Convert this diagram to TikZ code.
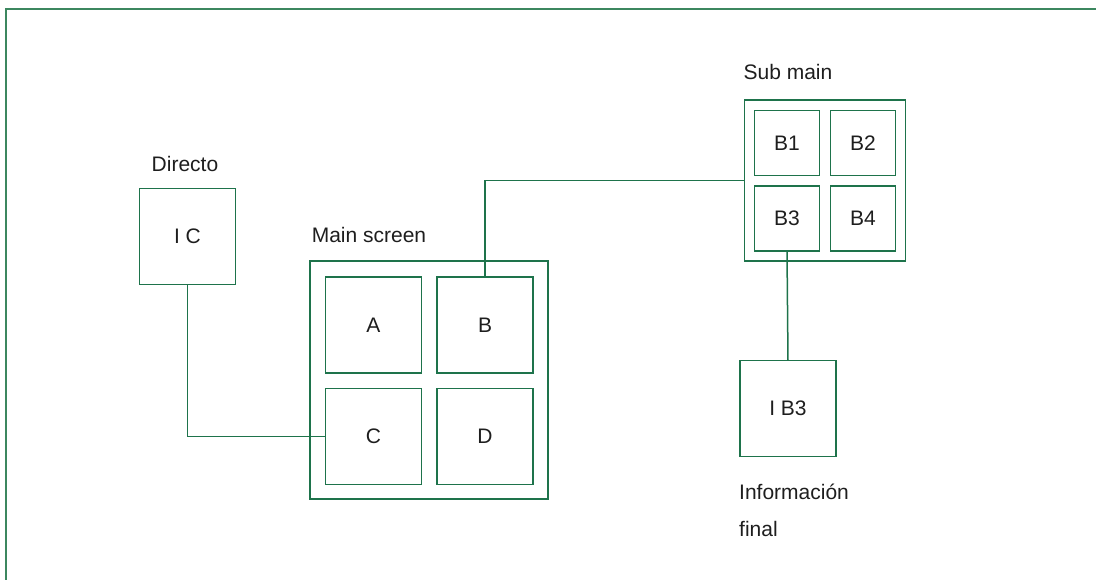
\documentclass[tikz,border=0pt]{standalone}
\usepackage{fontspec}
\setmainfont{Liberation Sans}
\definecolor{lc}{RGB}{30,115,75}
\definecolor{fc}{RGB}{60,135,95}
\definecolor{tc}{RGB}{30,30,30}
\begin{document}
\begin{tikzpicture}[x=1pt,y=-1pt,
  box/.style={draw=lc,line width=1.5pt,minimum width=#1,minimum height=#1,inner sep=0pt,outer sep=0pt,text=tc,font=\fontsize{21}{24}\selectfont},
  lbl/.style={text=tc,font=\fontsize{21}{24}\selectfont,inner sep=0pt},
  conn/.style={draw=lc,line width=1.5pt}]
\useasboundingbox (0,0) rectangle (1096,580);
\draw[fc,line width=2pt] (6,600) coordinate (fl) -- (6,9) coordinate (fc1) -- (1110,9) coordinate (fr);
% Directo
\node[box=96pt] (ic) at (187.5,236.5) {I C};
\node[lbl] (ldir) at (185,164) {Directo};
% Main screen
\node[box=238pt] (main) at (429,380) {};
\node[lbl] (lmain) at (369,235) {Main screen};
\node[box=96pt] (a) at (373.5,325) {A};
\node[box=96pt] (b) at (485,325) {B};
\node[box=96pt] (c) at (373.5,436.5) {C};
\node[box=96pt] (d) at (485,436.5) {D};
% Sub main
\node[box=161pt] (sub) at (825,180.5) {};
\node[lbl] (lsub) at (788,72) {Sub main};
\node[box=65pt] (b1) at (787,143) {B1};
\node[box=65pt] (b2) at (863,143) {B2};
\node[box=65pt] (b3) at (787,218.5) {B3};
\node[box=65pt] (b4) at (863,218.5) {B4};
% Informacion final
\node[box=96pt] (ib3) at (788,408.5) {I B3};
\node[lbl,anchor=west] (linf) at (739,492) {Información};
\node[lbl,anchor=west] (lfin) at (739,529) {final};
% connectors
\draw[conn] (ic.south) |- (c.west);
\draw[conn] (b.north) |- (sub.west);
\draw[conn] (b3.south) -- (ib3.north);
\end{tikzpicture}
\end{document}
